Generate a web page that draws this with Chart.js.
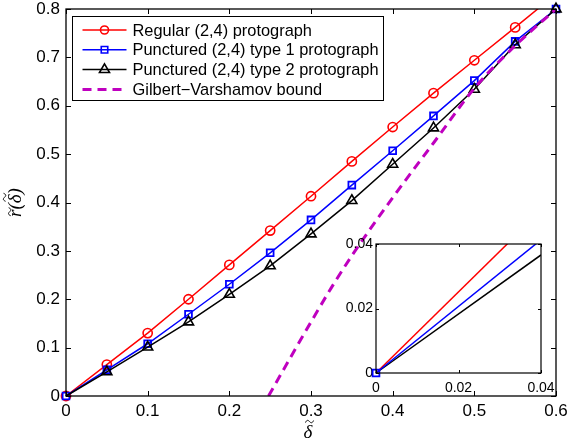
<!DOCTYPE html>
<html>
<head>
<meta charset="utf-8">
<script src="https://cdn.jsdelivr.net/npm/chart.js@4/dist/chart.umd.min.js"></script>
<style>
  html, body { margin: 0; padding: 0; background: #fff; }
  #wrap { position: relative; width: 569px; height: 445px; }
  #main { position: absolute; left: 0; top: 0; }
  #inset { position: absolute; left: 300px; top: 230px; }
</style>
</head>
<body>
<div id="wrap">
  <canvas id="main" width="569" height="445"></canvas>
  <canvas id="inset" width="260" height="175"></canvas>
</div>
<script>
// values
const delta = [0, 0.05, 0.1, 0.15, 0.2, 0.25, 0.3, 0.35, 0.4, 0.45, 0.5, 0.55, 0.6];
const regular = [0, 0.065, 0.130, 0.200, 0.271, 0.342, 0.413, 0.485, 0.556, 0.626, 0.694, 0.762, 0.831];
const punctured1 = [0, 0.054, 0.108, 0.169, 0.231, 0.296, 0.364, 0.436, 0.507, 0.579, 0.652, 0.733, 0.800];
const punctured2 = [0, 0.050, 0.101, 0.153, 0.210, 0.269, 0.335, 0.404, 0.479, 0.554, 0.634, 0.726, 0.800];

const gvDelta = [0.248, 0.275, 0.3, 0.325, 0.35, 0.4, 0.45, 0.5, 0.55, 0.6];
const gvRate = [0, 0.080, 0.153, 0.224, 0.290, 0.410, 0.523, 0.636, 0.724, 0.800];

const seriesLabels = [
  'Regular (2,4) protograph',
  'Punctured (2,4) type 1 protograph',
  'Punctured (2,4) type 2 protograph',
  'Gilbert\u2212Varshamov bound'
];

const xTicks = [0, 0.1, 0.2, 0.3, 0.4, 0.5, 0.6];
const xTickLabels = ['0', '0.1', '0.2', '0.3', '0.4', '0.5', '0.6'];
const yTicks = [0, 0.1, 0.2, 0.3, 0.4, 0.5, 0.6, 0.7, 0.8];
const yTickLabels = ['0', '0.1', '0.2', '0.3', '0.4', '0.5', '0.6', '0.7', '0.8'];

// axis titles, pieces with a tilde flag
const xTitle = [['\u03b4', true]];
const yTitle = [['r', true], ['(', false], ['\u03b4', true], [')', false]];

// zoomed inset near the origin
const insetDelta = [0, 0.04];
const insetRegular = [0, 0.0503];
const insetPunctured1 = [0, 0.0413];
const insetPunctured2 = [0, 0.0366];
const insetTicks = [0, 0.02, 0.04];
const insetTickLabels = ['0', '0.02', '0.04'];

const SANS = '"Liberation Sans", Arial, Helvetica, sans-serif';
const SERIF = '"Liberation Serif", "DejaVu Serif", serif';
const MAGENTA = '#bf00bf';

const toPoints = (xs, ys) => xs.map((x, i) => ({ x: x, y: ys[i] }));

function drawMarker(ctx, style, x, y, r) {
  ctx.beginPath();
  if (style === 'circle') {
    ctx.arc(x, y, r, 0, Math.PI * 2);
  } else if (style === 'rect') {
    const s = r * Math.SQRT1_2;
    ctx.rect(x - s, y - s, 2 * s, 2 * s);
  } else if (style === 'triangle') {
    let a = 0;
    ctx.moveTo(x + Math.sin(a) * r, y - Math.cos(a) * r);
    a += Math.PI * 2 / 3;
    ctx.lineTo(x + Math.sin(a) * r, y - Math.cos(a) * r);
    a += Math.PI * 2 / 3;
    ctx.lineTo(x + Math.sin(a) * r, y - Math.cos(a) * r);
    ctx.closePath();
  }
  ctx.stroke();
}

// italic math text with tildes placed over chosen glyphs, centred on (0,0)
function drawTildeText(ctx, parts, size) {
  ctx.font = 'italic ' + size + 'px ' + SERIF;
  const widths = parts.map(p => ctx.measureText(p[0]).width);
  const total = widths.reduce((a, b) => a + b, 0);
  let x = -total / 2;
  ctx.textBaseline = 'alphabetic';
  ctx.textAlign = 'left';
  parts.forEach((p, i) => {
    ctx.font = 'italic ' + size + 'px ' + SERIF;
    ctx.fillText(p[0], x, size * 0.32);
    if (p[1]) {
      const cx = x + widths[i] / 2 + size * 0.08;
      const top = p[0] === 'r' ? -size * 0.28 : -size * 0.55;
      ctx.lineWidth = 1;
      ctx.beginPath();
      ctx.moveTo(cx - 4, top + 1);
      ctx.bezierCurveTo(cx - 2.5, top - 2.5, cx - 1, top - 1, cx, top);
      ctx.bezierCurveTo(cx + 1, top + 1, cx + 2.5, top + 2.5, cx + 4, top - 1);
      ctx.stroke();
    }
    x += widths[i];
  });
}

const axisTitles = {
  id: 'axisTitles',
  afterDraw(chart, args, opts) {
    if (!opts.show) return;
    const { ctx, chartArea: a } = chart;
    ctx.save();
    ctx.fillStyle = '#000';
    ctx.strokeStyle = '#000';
    ctx.translate((a.left + a.right) / 2 - 3, opts.xTitleY);
    drawTildeText(ctx, xTitle, 19);
    ctx.restore();
    ctx.save();
    ctx.fillStyle = '#000';
    ctx.strokeStyle = '#000';
    ctx.translate(opts.yTitleX, (a.top + a.bottom) / 2);
    ctx.rotate(-Math.PI / 2);
    drawTildeText(ctx, yTitle, 19);
    ctx.restore();
  }
};

// matlab style box with inward ticks on all four sides
const boxTicks = {
  id: 'boxTicks',
  beforeDraw(chart, args, opts) {
    if (!opts.fill) return;
    const a = chart.chartArea;
    chart.ctx.save();
    chart.ctx.fillStyle = opts.fill;
    chart.ctx.fillRect(a.left, a.top, a.right - a.left, a.bottom - a.top);
    chart.ctx.restore();
  },
  afterDatasetsDraw(chart, args, opts) {
    const { ctx, chartArea: a, scales } = chart;
    const len = opts.len || 5;
    ctx.save();
    ctx.strokeStyle = '#000';
    ctx.lineWidth = opts.width || 1;
    ctx.beginPath();
    scales.x.ticks.forEach(t => {
      const px = Math.round(scales.x.getPixelForValue(t.value)) + 0.5;
      ctx.moveTo(px, a.bottom); ctx.lineTo(px, a.bottom - len);
      ctx.moveTo(px, a.top); ctx.lineTo(px, a.top + len);
    });
    scales.y.ticks.forEach(t => {
      const py = Math.round(scales.y.getPixelForValue(t.value)) + 0.5;
      ctx.moveTo(a.left, py); ctx.lineTo(a.left + len, py);
      ctx.moveTo(a.right, py); ctx.lineTo(a.right - len, py);
    });
    ctx.stroke();
    ctx.lineWidth = opts.boxWidth || 1;
    ctx.strokeRect(a.left, a.top, a.right - a.left, a.bottom - a.top);
    ctx.restore();
  }
};

// boxed legend in the top left corner, line sample + marker
const boxLegend = {
  id: 'boxLegend',
  afterDraw(chart, args, opts) {
    if (!opts.show) return;
    const ctx = chart.ctx;
    const { left, top, width, height, row, first } = opts;
    ctx.save();
    ctx.fillStyle = '#fff';
    ctx.fillRect(left, top, width, height);
    ctx.strokeStyle = '#000';
    ctx.lineWidth = 1;
    ctx.strokeRect(left, top, width, height);
    chart.data.datasets.forEach((ds, i) => {
      const y = top + first + i * row;
      ctx.strokeStyle = ds.borderColor;
      ctx.lineWidth = ds.borderWidth;
      ctx.setLineDash(ds.borderDash || []);
      ctx.beginPath();
      ctx.moveTo(left + 10, y);
      ctx.lineTo(left + 54, y);
      ctx.stroke();
      ctx.setLineDash([]);
      if (ds.pointStyle) {
        ctx.lineWidth = 1.6;
        drawMarker(ctx, ds.pointStyle, left + 32, y, ds.legendRadius);
      }
      ctx.fillStyle = '#000';
      ctx.font = '16.4px ' + SANS;
      ctx.textBaseline = 'middle';
      ctx.textAlign = 'left';
      ctx.fillText(ds.label, left + 60, y + 1);
    });
    ctx.restore();
  }
};

const tickFont = { family: SANS, size: 17 };
const noPadX = s => { s.paddingLeft = 0; s.paddingRight = 0; };
const noPadY = s => { s.paddingTop = 0; s.paddingBottom = 0; };

new Chart(document.getElementById('main'), {
  type: 'line',
  data: {
    datasets: [
      {
        label: seriesLabels[0],
        data: toPoints(delta, regular),
        borderColor: '#ff0000',
        borderWidth: 1.5,
        pointStyle: 'circle',
        pointRadius: 4.6,
        legendRadius: 4,
        pointBorderWidth: 1.6,
        pointBackgroundColor: 'rgba(0,0,0,0)',
        clip: { left: 8, right: 8, bottom: 8, top: 0 },
        order: 4
      },
      {
        label: seriesLabels[1],
        data: toPoints(delta, punctured1),
        borderColor: '#0000ff',
        borderWidth: 1.5,
        pointStyle: 'rect',
        pointRadius: 4.8,
        legendRadius: 4.6,
        pointBorderWidth: 1.8,
        pointBackgroundColor: 'rgba(0,0,0,0)',
        clip: 8,
        order: 3
      },
      {
        label: seriesLabels[2],
        data: toPoints(delta, punctured2),
        borderColor: '#000000',
        borderWidth: 1.5,
        pointStyle: 'triangle',
        pointRadius: c => c.dataIndex === 0 ? 0 : 5.8,
        legendRadius: 5.8,
        pointBorderWidth: 1.6,
        pointBackgroundColor: 'rgba(0,0,0,0)',
        clip: 8,
        order: 2
      },
      {
        label: seriesLabels[3],
        data: toPoints(gvDelta, gvRate),
        borderColor: MAGENTA,
        borderWidth: 3,
        borderDash: [9, 6],
        pointRadius: 0,
        pointStyle: false,
        cubicInterpolationMode: 'monotone',
        clip: 0,
        order: 1
      }
    ]
  },
  options: {
    responsive: false,
    animation: false,
    events: [],
    layout: { autoPadding: false, padding: { left: 0, top: 9, right: 13, bottom: 0 } },
    plugins: {
      legend: { display: false },
      tooltip: { enabled: false },
      boxTicks: { len: 5, width: 1, boxWidth: 1.3 },
      boxLegend: { show: true, left: 72.5, top: 16.5, width: 311, height: 84, row: 19.8, first: 13.5 },
      axisTitles: { show: true, xTitleY: 432, yTitleX: 15 }
    },
    scales: {
      x: {
        type: 'linear',
        min: 0, max: 0.6,
        afterBuildTicks: s => { s.ticks = xTicks.map(v => ({ value: v })); },
        afterFit: s => { s.height = 49; noPadX(s); },
        grid: { display: false, drawTicks: false },
        border: { display: false },
        ticks: { padding: 5, font: tickFont, color: '#000', maxRotation: 0, autoSkip: false,
                 callback: (v, i) => xTickLabels[i] }
      },
      y: {
        type: 'linear',
        min: 0, max: 0.8,
        afterBuildTicks: s => { s.ticks = yTicks.map(v => ({ value: v })); },
        afterFit: s => { s.width = 66; noPadY(s); },
        grid: { display: false, drawTicks: false },
        border: { display: false },
        ticks: { padding: 6, font: tickFont, color: '#000', autoSkip: false,
                 callback: (v, i) => yTickLabels[i] }
      }
    }
  },
  plugins: [boxTicks, boxLegend, axisTitles]
});

const insetFont = { family: SANS, size: 14 };

new Chart(document.getElementById('inset'), {
  type: 'line',
  data: {
    datasets: [
      {
        label: seriesLabels[0],
        data: toPoints(insetDelta, insetRegular),
        borderColor: '#ff0000',
        borderWidth: 1.5,
        pointRadius: 0,
        clip: { left: 8, bottom: 8, top: 0, right: 0 }
      },
      {
        label: seriesLabels[1],
        data: toPoints(insetDelta, insetPunctured1),
        borderColor: '#0000ff',
        borderWidth: 1.5,
        pointStyle: 'rect',
        pointRadius: c => c.dataIndex === 0 ? 4.8 : 0,
        pointBorderWidth: 1.8,
        pointBackgroundColor: 'rgba(0,0,0,0)',
        clip: { left: 8, bottom: 8, top: 0, right: 0 },
        order: -1
      },
      {
        label: seriesLabels[2],
        data: toPoints(insetDelta, insetPunctured2),
        borderColor: '#000000',
        borderWidth: 1.5,
        pointRadius: 0,
        clip: { left: 8, bottom: 8, top: 0, right: 0 }
      }
    ]
  },
  options: {
    responsive: false,
    animation: false,
    events: [],
    layout: { autoPadding: false, padding: { left: 0, top: 14, right: 19, bottom: 0 } },
    plugins: {
      legend: { display: false },
      tooltip: { enabled: false },
      boxTicks: { len: 3, width: 1, boxWidth: 1.2, fill: '#fff' },
      boxLegend: { show: false },
      axisTitles: { show: false }
    },
    scales: {
      x: {
        type: 'linear',
        min: 0, max: 0.04,
        afterBuildTicks: s => { s.ticks = insetTicks.map(v => ({ value: v })); },
        afterFit: s => { s.height = 175 - 143; noPadX(s); },
        grid: { display: false, drawTicks: false },
        border: { display: false },
        ticks: { padding: 7, font: insetFont, color: '#000', maxRotation: 0, autoSkip: false,
                 callback: (v, i) => insetTickLabels[i] }
      },
      y: {
        type: 'linear',
        min: 0, max: 0.04,
        afterBuildTicks: s => { s.ticks = insetTicks.map(v => ({ value: v })); },
        afterFit: s => { s.width = 76; noPadY(s); },
        grid: { display: false, drawTicks: false },
        border: { display: false },
        ticks: { padding: 3, font: insetFont, color: '#000', autoSkip: false,
                 callback: (v, i) => insetTickLabels[i] }
      }
    }
  },
  plugins: [boxTicks, boxLegend, axisTitles]
});
</script>
</body>
</html>
